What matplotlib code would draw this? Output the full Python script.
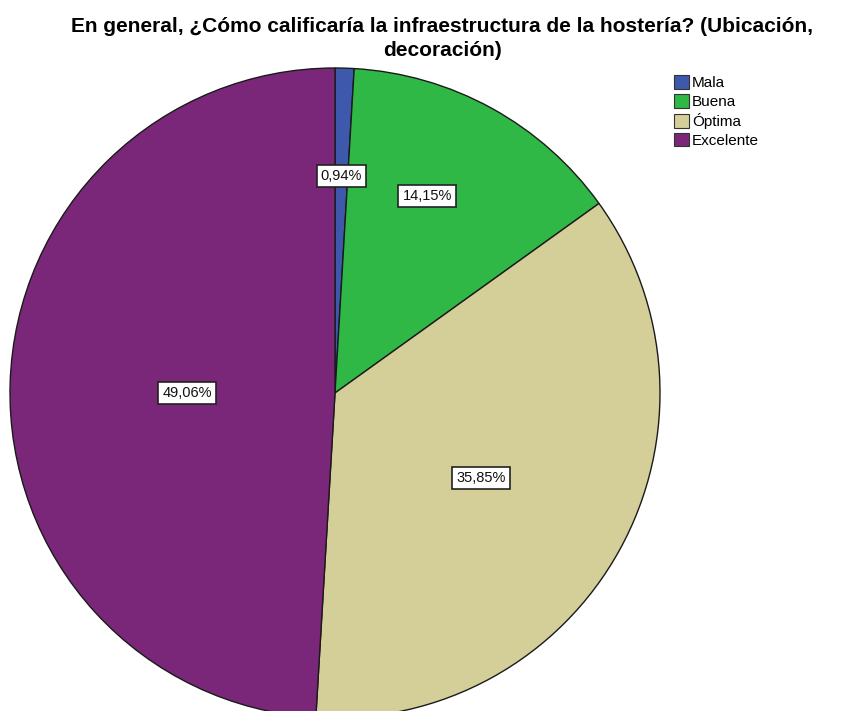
import numpy as np
import matplotlib
matplotlib.use("Agg")
import matplotlib.pyplot as plt
from matplotlib.patches import Patch

plt.rcParams['font.family'] = ['Liberation Sans', 'DejaVu Sans']

categorias = ['Mala', 'Buena', 'Óptima', 'Excelente']
porcentajes = [0.94, 14.15, 35.85, 49.06]
colores = ['#3E58AC', '#2FB846', '#D4CE98', '#7A277A']
# posicion de cada etiqueta: fraccion del radio y giro (grados) sobre el angulo medio
dist_etiqueta = [0.668, 0.669, 0.52, 0.455]
giro_etiqueta = [0.0, 3.8, -1.4, 1.7]

fig = plt.figure(figsize=(8.57, 7.11), dpi=100)
ax = fig.add_axes([0, 0, 1, 1])

wedges, _ = ax.pie(porcentajes, colors=colores, startangle=90, counterclock=False,
                   radius=1, center=(0, 0),
                   wedgeprops=dict(edgecolor='#1a1a1a', linewidth=1.0))

for w, p, d, g in zip(wedges, porcentajes, dist_etiqueta, giro_etiqueta):
    ang = np.deg2rad((w.theta1 + w.theta2) / 2 + g)
    x, y = d * np.cos(ang), d * np.sin(ang)
    ax.text(x, y, ('%.2f%%' % p).replace('.', ','), ha='center', va='center',
            fontsize=10.5, color='#111111',
            bbox=dict(boxstyle='square,pad=0.28', facecolor='white',
                      edgecolor='#222222', linewidth=1.2))

ax.set_xlim(-335 / 325, (857 - 335) / 325)
ax.set_ylim(-(711 - 393) / 325, 393 / 325)
ax.set_aspect('equal')
ax.axis('off')

fig.text(0.516, 1 - 32 / 711, 'En general, ¿Cómo calificaría la infraestructura de la hostería? (Ubicación,',
         ha='center', va='baseline', fontsize=15, fontweight='bold')
fig.text(0.516, 1 - 55.5 / 711, 'decoración)',
         ha='center', va='baseline', fontsize=15, fontweight='bold')

handles = [Patch(facecolor=c, edgecolor='#333333', linewidth=0.8) for c in colores]
fig.legend(handles, categorias, loc='upper left', bbox_to_anchor=(0.777, 0.905),
           frameon=False, fontsize=11, handlelength=1.0, handleheight=1.0,
           handletextpad=0.2, labelspacing=0.25, borderpad=0)

fig.savefig('out.png', dpi=100)
